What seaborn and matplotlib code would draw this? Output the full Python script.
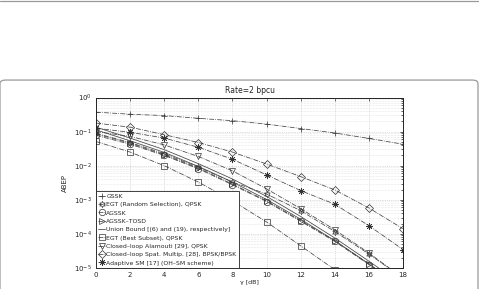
import numpy as np
import pandas as pd
import seaborn as sns
import matplotlib.pyplot as plt
from matplotlib.patches import FancyBboxPatch
from matplotlib.lines import Line2D

snr = [0, 2, 4, 6, 8, 10, 12, 14, 16, 18]

# log10(ABEP)
gssk = [-0.43, -0.49, -0.53, -0.61, -0.68, -0.78, -0.91, -1.04, -1.20, -1.37]
egt_random = [-1.05, -1.32, -1.65, -2.04, -2.48, -2.83, -3.32, -3.93, -4.59, -5.3]
agssk = [-1.11, -1.37, -1.70, -2.09, -2.56, -3.05, -3.63, -4.22, -4.90, -5.6]
agssk_tosd = [-1.07, -1.34, -1.68, -2.07, -2.54, -3.03, -3.61, -4.20, -4.88, -5.6]
union_1 = [-0.87, -1.19, -1.53, -1.94, -2.39, -2.90, -3.49, -4.12, -4.80, -5.5]
union_2 = [-0.95, -1.27, -1.61, -2.02, -2.48, -2.99, -3.57, -4.20, -4.88, -5.6]
egt_best = [-1.29, -1.60, -2.00, -2.48, -3.03, -3.65, -4.35, -5.05, -5.8, -6.5]
alamouti = [-1.00, -1.14, -1.39, -1.73, -2.15, -2.68, -3.26, -3.88, -4.56, -5.3]
cl_sm = [-0.75, -0.87, -1.09, -1.32, -1.60, -1.95, -2.32, -2.71, -3.24, -3.85]
adaptive_sm = [-0.90, -1.02, -1.19, -1.46, -1.81, -2.27, -2.73, -3.13, -3.76, -4.46]

names = ["GSSK", "EGT (Random Selection), QPSK", "AGSSK", "AGSSK\u2013TOSD",
         "Union Bound [(6) and (19), respectively]", "EGT (Best Subset), QPSK",
         "Closed\u2013loop Alamouti [29], QPSK",
         "Closed\u2013loop Spat. Multip. [28], BPSK/BPSK",
         "Adaptive SM [17] (OH\u2013SM scheme)"]

sns.set_style("white")
plt.rcParams['font.family'] = ['DejaVu Sans']
plt.rcParams['xtick.direction'] = 'in'
plt.rcParams['ytick.direction'] = 'in'

fig = plt.figure(figsize=(4.83, 2.89), dpi=100)
ax = fig.add_axes([0.1988, 0.0727, 0.6356, 0.5899])

# outer panel frame
fig.patches.append(FancyBboxPatch((0.0, -0.2), 0.9896, 0.923, boxstyle="round,pad=0,rounding_size=0.012",
                                  transform=fig.transFigure, fill=False, ec='#9a9a9a', lw=0.9))
fig.add_artist(Line2D([0, 0.99], [0.997, 0.997], transform=fig.transFigure, color='#9a9a9a', lw=0.9))

series = [
    (gssk, '+', '-.'),
    (egt_random, (6, 1, 0), '-.'),
    (agssk, 'o', '-.'),
    (agssk_tosd, '>', '-.'),
    (union_1, None, '-'),
    (egt_best, 's', '-.'),
    (alamouti, 'v', '-.'),
    (cl_sm, 'D', '-.'),
    (adaptive_sm, (8, 2, 0), '-.'),
]

for (vals, mk, ls), name in zip(series, names):
    y = 10 ** np.array(vals)
    ms = 4.6 if mk != 'D' else 3.8
    sns.lineplot(x=snr, y=y, ax=ax, color='#444444', lw=0.55, linestyle=ls,
                 marker=mk, markersize=ms, markerfacecolor='none',
                 markeredgecolor='#333333', markeredgewidth=0.5, label=name)
sns.lineplot(x=snr, y=10 ** np.array(union_2), ax=ax, color='#444444', lw=0.55,
             linestyle='-', label='_nolegend_')

ax.set_yscale('log')
ax.set_xlim(0, 18)
ax.set_ylim(1e-5, 1)
ax.set_xticks(snr)
ax.set_yticks([1e-5, 1e-4, 1e-3, 1e-2, 1e-1, 1])
ax.grid(True, which='major', ls=':', color='#bdbdbd', lw=0.5)
ax.grid(True, which='minor', axis='y', ls=':', color='#d0d0d0', lw=0.4)
ax.tick_params(which='both', top=True, right=True, labelsize=5, length=2.5, width=0.5, pad=3)
ax.tick_params(which='minor', length=1.3)
for s in ax.spines.values():
    s.set_linewidth(0.7)
    s.set_color('#222222')

ax.set_title('Rate=2 bpcu', fontsize=5.5, pad=3)
ax.set_xlabel('\u03b3 [dB]', fontsize=4.5, labelpad=1)
ax.set_ylabel('ABEP', fontsize=5, labelpad=4)

leg = ax.legend(loc='lower left', fontsize=4.4, frameon=True, fancybox=False,
                edgecolor='#222222', framealpha=1, borderpad=0.35, labelspacing=0.5,
                handlelength=1.0, handletextpad=0.3, borderaxespad=0.05)
leg.get_frame().set_linewidth(0.6)

fig.savefig('out.png', dpi=100)
